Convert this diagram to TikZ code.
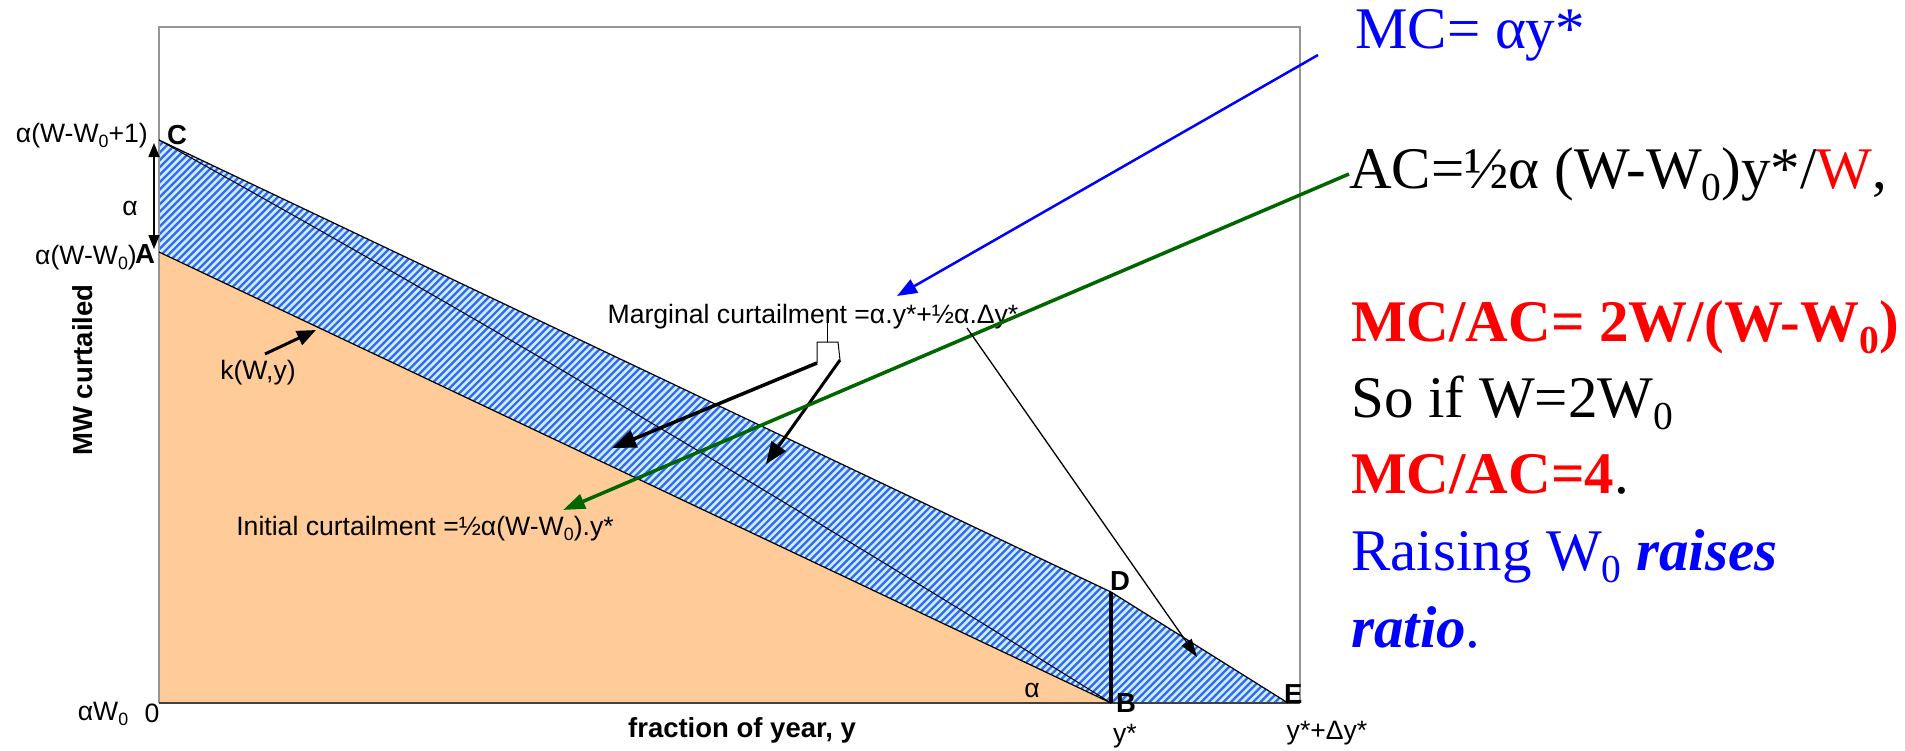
\documentclass[tikz,border=0pt]{standalone}
\usepackage{fontspec}
\usepackage{graphicx}
\setmainfont{Liberation Serif}
\newfontfamily\arial{Liberation Sans}
\usetikzlibrary{arrows.meta}
\definecolor{peach}{RGB}{255,204,153}
\definecolor{hblue}{RGB}{50,105,245}
\definecolor{hlight}{RGB}{205,238,255}
\definecolor{dgreen}{RGB}{0,102,0}
\definecolor{mcblue}{RGB}{0,0,255}
\definecolor{mcred}{RGB}{255,0,0}
\definecolor{framegray}{RGB}{150,150,150}
\newcommand{\lo}[1]{\raisebox{-0.22em}{\scalebox{0.67}{#1}}}
\begin{document}
\begin{tikzpicture}[x=1pt,y=-1pt,
  plbl/.style={font=\arial\fontsize{26.6}{30}\selectfont, inner sep=0pt},
  pbold/.style={font=\arial\bfseries\fontsize{27.5}{30}\selectfont, inner sep=0pt},
  big/.style={font=\fontsize{59}{70}\selectfont, inner sep=0pt, anchor=base west},
  edge/.style={draw=black, line width=1.2pt}
]
\useasboundingbox (0,0) rectangle (1905,750);
% key points
\coordinate (O) at (159,703);
\coordinate (A) at (159,252);
\coordinate (C) at (159,140);
\coordinate (D) at (1111,592);
\coordinate (B) at (1111,703);
\coordinate (E) at (1288,703);
\coordinate (TL) at (159,27);
\coordinate (TR) at (1300,27);
\coordinate (BR) at (1300,703);
% orange area
\fill[peach] (O) -- (A) -- (B) -- cycle;
% hatched band
\begin{scope}
  \clip (A) -- (C) -- (D) -- (E) -- (B) -- cycle;
  \fill[hblue] (A) -- (C) -- (D) -- (E) -- (B) -- cycle;
  \foreach \x in {-470,-462.6,...,1300}
    \draw[hlight, line width=2.6pt] (\x,712) -- ++(620,-620);
\end{scope}
% frame and axes
\draw[framegray, line width=2pt] (O) -- (TL) -- (TR) -- (BR);
\draw[black!75, line width=2pt] (O) -- (BR);
% curves
\draw[edge] (A) -- (B);
\draw[edge] (C) -- (D) -- (E);
\draw[draw=black, line width=1pt] (C) .. controls (476,316) and (794,505) .. (B);
\draw[line width=4pt] (D) -- (B);
% plot labels
\node[plbl, anchor=base east] (lC1) at (148,142) {α(W-W\lo{0}+1)};
\node[pbold, anchor=base west] (lC) at (167,144) {C};
\node[plbl, anchor=base east] (lA1) at (137,264) {α(W-W\lo{0})};
\node[pbold, anchor=base west] (lA) at (135,263) {A};
\node[plbl] (lal) at (130,208) {α};
\node[plbl, anchor=base] (lk) at (258,379) {k(W,y)};
\node[plbl, anchor=base] (law) at (103,720) {αW\lo{0}};
\node[plbl, anchor=base] (l0) at (152,722) {0};
\node[plbl, anchor=base] (lys) at (1125,742) {y*};
\node[plbl, anchor=base] (lyd) at (1327,739) {y*+Δy*};
\node[plbl, anchor=base] (la2) at (1032,697) {α};
\node[pbold, anchor=base west] (lB) at (1116,712) {B};
\node[pbold, anchor=base west] (lD) at (1110,590) {D};
\node[pbold, anchor=base west] (lE) at (1284,703) {E};
\node[pbold, anchor=base] (lx) at (742,737) {fraction of year, y};
\node[pbold, anchor=base, rotate=90] (ly) at (92,370) {MW curtailed};
\node[plbl, anchor=base] (lic) at (425,535) {Initial curtailment =½α(W-W\lo{0}).y*};
\node[plbl, anchor=base] (lmc) at (813,323) {Marginal curtailment =α.y*+½α.Δy*};
% right-hand text
\node[big, text=mcblue] (tMC) at (1355,48) {MC= αy*};
\node[big] (tAC) at (1349,188) {AC=½α (W-W\lo{0})y*/\textcolor{mcred}{W},};
\node[big, text=mcred] (t1) at (1351,341) {\bfseries MC/AC= 2W/(W-W\lo{0})};
\node[big] (t2) at (1351,417) {So if W=2W\lo{0}};
\node[big] (t3) at (1351,493) {\textcolor{mcred}{\bfseries MC/AC=4}.};
\node[big, text=mcblue] (t4) at (1351,570) {Raising W\lo{0} \textbf{\textit{raises}}};
\node[big, text=mcblue] (t5) at (1351,647) {\textbf{\textit{ratio}}.};
% alpha double arrow
\coordinate (aT) at (154,143);
\coordinate (aB) at (154,249);
\draw[line width=1.5pt, {Triangle[length=14pt,width=11pt]}-{Triangle[length=14pt,width=11pt]}] (aT) -- (aB);
% k(W,y) arrow
\coordinate (k1) at (265,354);
\coordinate (k2) at (316,330);
\draw[line width=3pt, -{Triangle[length=19pt,width=15pt]}] (k1) -- (k2);
% callout
\coordinate (s1) at (827,322);
\coordinate (s2) at (827,342);
\coordinate (cl) at (817,363);
\coordinate (cr) at (840,360);
\draw[line width=1pt] (s1) -- (s2);
\draw[line width=1pt] (cl) -- (817,342) -- (838,342) -- (cr);
\coordinate (ctl) at (612,448);
\coordinate (ctr) at (766,464);
\draw[line width=3.5pt, -{Triangle[length=24pt,width=18pt]}] (cl) -- (ctl);
\draw[line width=3pt, -{Triangle[length=22pt,width=17pt]}] (cr) -- (ctr);
% blue, green, black connectors
\coordinate (bS) at (1318,55);
\coordinate (bT) at (897,296);
\draw[mcblue, line width=2.5pt, -{Triangle[length=20pt,width=15pt]}] (bS) -- (bT);
\coordinate (gS) at (1349,174);
\coordinate (gT) at (563,510);
\draw[dgreen, line width=3.5pt, -{Triangle[length=22pt,width=15pt]}] (gS) -- (gT);
\coordinate (mS) at (967,328);
\coordinate (mT) at (1197,657);
\draw[line width=1.3pt, -{Triangle[length=18pt,width=12pt]}] (mS) -- (mT);
\end{tikzpicture}
\end{document}
